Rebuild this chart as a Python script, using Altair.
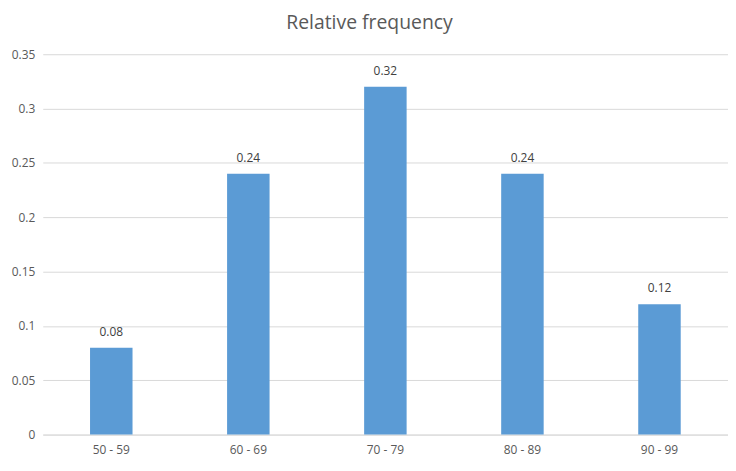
import altair as alt
import pandas as pd

categories = ["50 - 59", "60 - 69", "70 - 79", "80 - 89", "90 - 99"]
values = [0.08, 0.24, 0.32, 0.24, 0.12]
y_ticks = [0, 0.05, 0.1, 0.15, 0.2, 0.25, 0.3, 0.35]

df = pd.DataFrame({"cat": categories, "val": values})

FONT = "Open Sans"
GREY = "#595959"

x = alt.X("cat:N", sort=categories, title=None,
          scale=alt.Scale(paddingInner=0.69, paddingOuter=0.345),
          axis=alt.Axis(labelAngle=0, labelFontSize=12, labelColor=GREY, labelFont=FONT,
                        ticks=False, domainColor="#D9D9D9", labelPadding=10, grid=False))
y = alt.Y("val:Q", title=None, scale=alt.Scale(domain=[0, 0.35], nice=False),
          axis=alt.Axis(values=y_ticks, labelExpr="format(datum.value, '~g')",
                        labelFontSize=12, labelColor=GREY, labelFont=FONT,
                        ticks=False, domain=False, gridColor="#D9D9D9",
                        labelPadding=8))

bars = alt.Chart(df).mark_bar(color="#5B9BD5").encode(x=x, y=y)
labels = alt.Chart(df).mark_text(baseline="bottom", dy=-9, fontSize=12, color="#404040", font=FONT).encode(
    x=alt.X("cat:N", sort=categories), y="val:Q", text=alt.Text("val:Q", format="~g"))

chart = (bars + labels).properties(
    width=690, height=383,
    title=alt.TitleParams("Relative frequency", fontSize=19.5, font=FONT, fontWeight="normal",
                          color=GREY, anchor="middle", dx=-16, offset=15),
    autosize=alt.AutoSizeParams(type="none"),
    padding={"left": 35, "top": 45, "right": 0, "bottom": 20},
).configure_view(stroke=None)

chart.save("out.html", embed_options={"renderer": "svg", "actions": False})
